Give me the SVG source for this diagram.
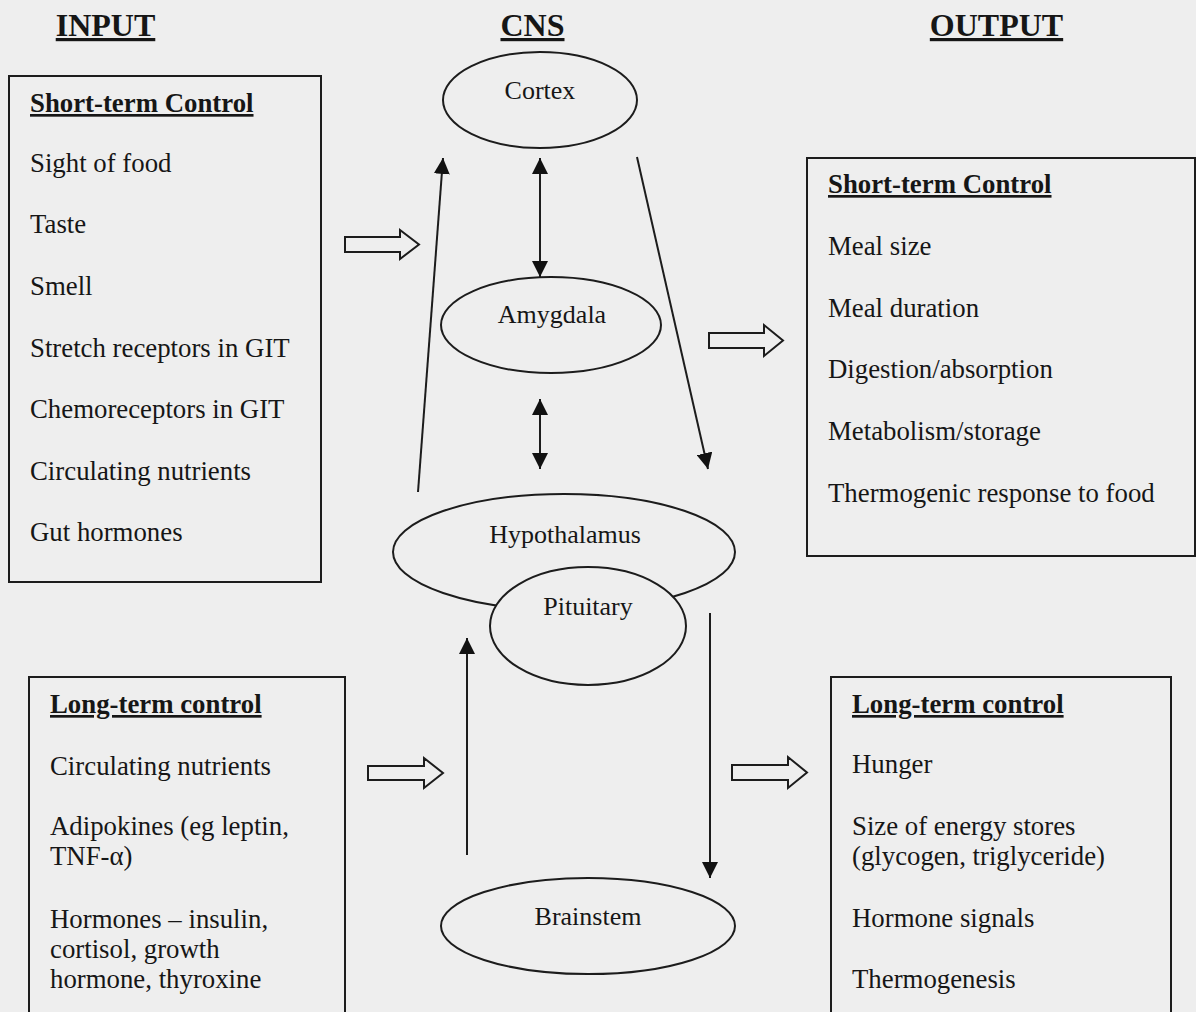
<svg xmlns="http://www.w3.org/2000/svg" width="1196" height="1012" viewBox="0 0 1196 1012">
<style>
text{font-family:"Liberation Serif","Times New Roman",serif;fill:#161616;}
.h{font-size:32px;font-weight:bold;text-decoration:underline;text-anchor:middle;}
.t{font-size:26.8px;}
.b{font-size:26.8px;font-weight:bold;text-decoration:underline;}
.c{font-size:26px;text-anchor:middle;}
.box{fill:none;stroke:#1c1c1c;stroke-width:2;}
.ell{fill:#eeeeee;stroke:#1c1c1c;stroke-width:2;}
.ln{stroke:#1c1c1c;stroke-width:2;fill:none;}
.blk{fill:#eeeeee;stroke:#1c1c1c;stroke-width:2;stroke-linejoin:miter;}
</style>
<defs>
<marker id="ah" markerUnits="userSpaceOnUse" markerWidth="17" markerHeight="16" refX="16" refY="8" orient="auto-start-reverse" viewBox="0 0 17 16">
<path d="M0,0 L16,8 L0,16 z" fill="#111"/>
</marker>
</defs>
<rect width="1196" height="1012" fill="#eeeeee"/>

<g id="titles">
<text class="h" x="105.5" y="36">INPUT</text>
<text class="h" x="532.5" y="36">CNS</text>
<text class="h" x="996.5" y="36">OUTPUT</text>
</g>

<g id="input-short">
<rect class="box" x="9" y="76" width="312" height="506"/>
<text class="b" x="30" y="112">Short-term Control</text>
<text class="t" x="30" y="172">Sight of food</text>
<text class="t" x="30" y="233">Taste</text>
<text class="t" x="30" y="295">Smell</text>
<text class="t" x="30" y="357">Stretch receptors in GIT</text>
<text class="t" x="30" y="418">Chemoreceptors in GIT</text>
<text class="t" x="30" y="480">Circulating nutrients</text>
<text class="t" x="30" y="541">Gut hormones</text>
</g>

<g id="input-long">
<rect class="box" x="29" y="677" width="316" height="345"/>
<text class="b" x="50" y="713">Long-term control</text>
<text class="t" x="50" y="775">Circulating nutrients</text>
<text class="t" x="50" y="835">Adipokines (eg leptin,</text>
<text class="t" x="50" y="865">TNF-α)</text>
<text class="t" x="50" y="928">Hormones – insulin,</text>
<text class="t" x="50" y="958">cortisol, growth</text>
<text class="t" x="50" y="988">hormone, thyroxine</text>
</g>

<g id="output-short">
<rect class="box" x="807" y="158" width="388" height="398"/>
<text class="b" x="828" y="193">Short-term Control</text>
<text class="t" x="828" y="255">Meal size</text>
<text class="t" x="828" y="317">Meal duration</text>
<text class="t" x="828" y="378">Digestion/absorption</text>
<text class="t" x="828" y="440">Metabolism/storage</text>
<text class="t" x="828" y="502">Thermogenic response to food</text>
</g>

<g id="output-long">
<rect class="box" x="831" y="677" width="340" height="345"/>
<text class="b" x="852" y="713">Long-term control</text>
<text class="t" x="852" y="773">Hunger</text>
<text class="t" x="852" y="835">Size of energy stores</text>
<text class="t" x="852" y="865">(glycogen, triglyceride)</text>
<text class="t" x="852" y="927">Hormone signals</text>
<text class="t" x="852" y="988">Thermogenesis</text>
</g>

<g id="cortex">
<ellipse class="ell" cx="540" cy="100" rx="97" ry="48"/>
<text class="c" x="540" y="99">Cortex</text>
</g>

<g id="amygdala">
<ellipse class="ell" cx="551" cy="325" rx="110" ry="48"/>
<text class="c" x="552" y="323">Amygdala</text>
</g>

<g id="hypothalamus">
<ellipse class="ell" cx="564" cy="552" rx="171" ry="58"/>
<text class="c" x="565" y="543">Hypothalamus</text>
</g>

<g id="pituitary">
<ellipse class="ell" cx="588" cy="626" rx="98" ry="59"/>
<text class="c" x="588" y="615">Pituitary</text>
</g>

<g id="brainstem">
<ellipse class="ell" cx="588" cy="926" rx="147" ry="48"/>
<text class="c" x="588" y="925">Brainstem</text>
</g>

<g id="connectors">
<line class="ln" x1="418" y1="492" x2="443" y2="158" marker-end="url(#ah)"/>
<line class="ln" x1="540" y1="158" x2="540" y2="277" marker-start="url(#ah)" marker-end="url(#ah)"/>
<line class="ln" x1="637" y1="157" x2="708" y2="469" marker-end="url(#ah)"/>
<line class="ln" x1="540" y1="399" x2="540" y2="469" marker-start="url(#ah)" marker-end="url(#ah)"/>
<line class="ln" x1="467" y1="855" x2="467" y2="638" marker-end="url(#ah)"/>
<line class="ln" x1="710" y1="613" x2="710" y2="878" marker-end="url(#ah)"/>
<path class="blk" d="M345,237 L400,237 L400,230 L419,244.5 L400,259 L400,252 L345,252 Z"/>
<path class="blk" d="M709,333 L764,333 L764,325 L783,340.5 L764,356 L764,348 L709,348 Z"/>
<path class="blk" d="M368,766 L424,766 L424,758 L443,773 L424,788 L424,780 L368,780 Z"/>
<path class="blk" d="M732,765 L788,765 L788,757 L807,772.5 L788,788 L788,780 L732,780 Z"/>
</g>
</svg>
